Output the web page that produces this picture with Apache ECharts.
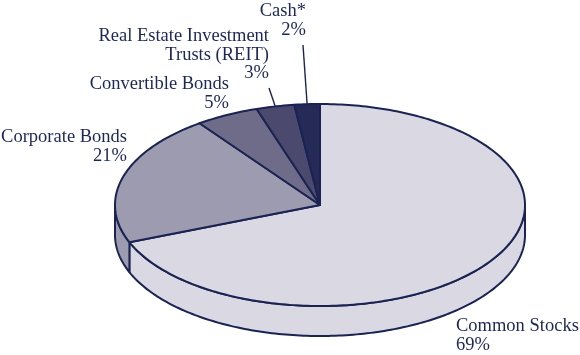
<!DOCTYPE html>
<html><head><meta charset="utf-8">
<script src="https://cdn.jsdelivr.net/npm/echarts@6/dist/echarts.min.js"></script>
<style>html,body{margin:0;padding:0;background:#fff}#c{width:580px;height:355px}</style>
</head><body><div id="c"></div>
<script>
const categories = ['Common Stocks', 'Corporate Bonds', 'Convertible Bonds', 'Real Estate Investment\nTrusts (REIT)', 'Cash*'];
const values = [69, 21, 5, 3, 2];

const colors = ['#d9d8e3', '#9d9baf', '#6f6c8a', '#4b4a6e', '#252a57'];
const edge = '#1b2352';
const textColor = '#1d2656';
const geo = { cx: 320, cy: 205, rx: 205, ry: 101, depth: 30 };
// label anchor: [x, top y, align, leader end x, leader end y]
const labelLayout = [
  [456, 317, 'left', null, null],
  [127, 128, 'right', null, null],
  [229, 75, 'right', null, null],
  [269, 27, 'right', 269, 88],
  [306, 2, 'right', 303, 45]
];

const total = values.reduce((a, b) => a + b, 0);
function pt(t, dy) {
  return [geo.cx + geo.rx * Math.sin(t), geo.cy - geo.ry * Math.cos(t) + (dy || 0)];
}
function arc(a0, a1, dy) {
  const n = Math.max(2, Math.ceil(Math.abs(a1 - a0) / (Math.PI / 180)));
  const out = [];
  for (let k = 0; k <= n; k++) out.push(pt(a0 + (a1 - a0) * k / n, dy));
  return out;
}

function renderItem(params, api) {
  const i = params.dataIndex;
  let before = 0;
  for (let k = 0; k < i; k++) before += values[k];
  const v = api.value(0);
  const a0 = before / total * 2 * Math.PI;
  const a1 = (before + v) / total * 2 * Math.PI;
  const children = [];
  const s0 = Math.max(a0, Math.PI / 2), s1 = Math.min(a1, 3 * Math.PI / 2);
  if (s1 > s0) {
    const pts = arc(s0, s1, 0).concat(arc(s1, s0, geo.depth));
    children.push({
      type: 'polygon', shape: { points: pts },
      style: { fill: colors[i], stroke: edge, lineWidth: 2, lineJoin: 'round' }
    });
  }
  const topPts = [[geo.cx, geo.cy]].concat(arc(a0, a1, 0));
  children.push({
    type: 'polygon', shape: { points: topPts },
    style: { fill: colors[i], stroke: edge, lineWidth: 2, lineJoin: 'round' }
  });
  const L = labelLayout[i];
  if (L[3] !== null) {
    const m = pt((a0 + a1) / 2, 0);
    children.push({
      type: 'line', shape: { x1: m[0], y1: m[1], x2: L[3], y2: L[4] },
      style: { stroke: edge, lineWidth: 1.4 }
    });
  }
  children.push({
    type: 'text',
    style: {
      x: L[0], y: L[1], text: categories[i] + '\n' + v + '%',
      align: L[2], verticalAlign: 'top',
      font: '18.5px "Liberation Serif", "Times New Roman", serif',
      lineHeight: 18.5, fill: textColor
    }
  });
  return { type: 'group', children: children };
}

const chart = echarts.init(document.getElementById('c'), null, { renderer: 'canvas' });
chart.setOption({
  animation: false,
  backgroundColor: '#ffffff',
  series: [{
    type: 'custom',
    coordinateSystem: 'none',
    renderItem: renderItem,
    data: values.map(v => [v])
  }]
});
</script></body></html>
